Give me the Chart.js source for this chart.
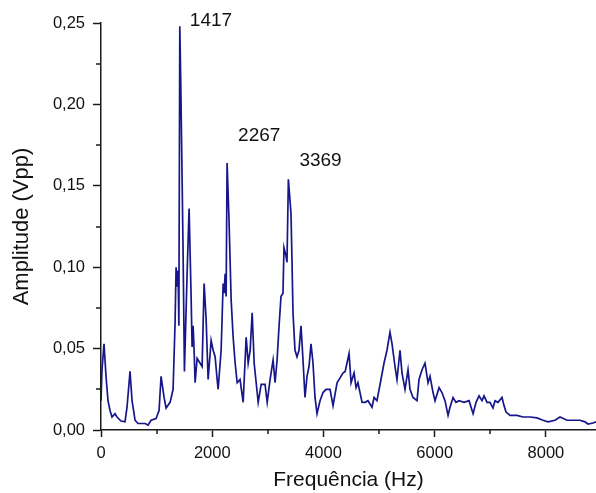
<!DOCTYPE html>
<html>
<head>
<meta charset="utf-8">
<script src="https://cdn.jsdelivr.net/npm/chart.js@4/dist/chart.umd.min.js"></script>
<style>
html,body{margin:0;padding:0;background:#fff;}
#wrap{width:596px;height:493px;position:relative;}
</style>
</head>
<body>
<div id="wrap"><canvas id="c" width="596" height="493"></canvas></div>
<script>
// ---- data (Hz, Vpp) ----
const freq = [
  0,18,54,90,126,162,198,252,288,360,
  432,468,522,558,612,666,792,846,900,990,
  1044,1080,1134,1170,1242,1296,1332,1350,1368,1386,
  1400,1417,1435,1455,1475,1500,1548,1584,1620,1638,
  1656,1674,1692,1728,1782,1818,1854,1890,1926,1980,
  2016,2052,2088,2106,2160,2196,2214,2232,2250,2267,
  2300,2340,2376,2412,2448,2500,2556,2610,2646,2682,
  2718,2754,2790,2826,2880,2916,2950,2988,3040,3094,
  3130,3166,3200,3236,3272,3290,3326,3344,3369,3416,
  3434,3452,3488,3524,3560,3596,3632,3668,3704,3740,
  3776,3812,3848,3884,3938,3992,4046,4118,4172,4244,
  4298,4350,4390,4460,4496,4550,4586,4620,4694,4748,
  4800,4873,4910,4962,5034,5088,5142,5196,5232,5286,
  5322,5376,5412,5466,5520,5556,5610,5682,5718,5772,
  5826,5880,5916,5970,6006,6078,6130,6185,6240,6275,
  6330,6383,6437,6527,6617,6690,6743,6797,6850,6887,
  6940,6994,7048,7084,7138,7210,7246,7282,7354,7480,
  7588,7714,7840,7947,8037,8163,8253,8379,8487,8612,
  8702,8756,8846,8900
];
const amp = [
  0.018,0.037,0.053,0.033,0.018,0.012,0.008,0.010,0.008,0.0055,
  0.005,0.014,0.036,0.018,0.006,0.004,0.004,0.003,0.006,0.007,
  0.012,0.033,0.020,0.0135,0.017,0.025,0.066,0.100,0.088,0.098,
  0.064,0.248,0.211,0.162,0.112,0.036,0.096,0.136,0.082,0.051,
  0.064,0.049,0.029,0.044,0.041,0.039,0.090,0.068,0.031,0.055,
  0.049,0.045,0.031,0.025,0.049,0.090,0.084,0.096,0.082,0.164,
  0.131,0.080,0.057,0.041,0.029,0.031,0.017,0.057,0.041,0.049,
  0.072,0.041,0.029,0.017,0.028,0.028,0.028,0.017,0.031,0.043,
  0.029,0.043,0.063,0.082,0.084,0.112,0.107,0.103,0.154,0.133,
  0.104,0.072,0.049,0.045,0.049,0.064,0.043,0.020,0.033,0.039,
  0.053,0.041,0.020,0.010,0.018,0.023,0.025,0.025,0.015,0.029,
  0.032,0.035,0.036,0.047,0.029,0.035,0.026,0.029,0.017,0.017,
  0.018,0.014,0.020,0.018,0.031,0.041,0.049,0.060,0.053,0.039,
  0.031,0.049,0.035,0.025,0.037,0.025,0.020,0.018,0.031,0.037,
  0.041,0.029,0.033,0.023,0.018,0.026,0.023,0.018,0.009,0.014,
  0.020,0.017,0.018,0.017,0.018,0.010,0.017,0.021,0.018,0.021,
  0.017,0.017,0.0135,0.018,0.017,0.020,0.015,0.011,0.009,0.009,
  0.008,0.008,0.0074,0.006,0.005,0.006,0.008,0.006,0.006,0.006,
  0.005,0.0037,0.0043,0.005
];
const peakLabels = ['1417','2267','3369'];
const peakFreq = [1417, 2267, 3369];
const peakAmp = [0.248, 0.164, 0.154];
const xTicks = [0, 2000, 4000, 6000, 8000];
const xMinorTicks = [1000, 3000, 5000, 7000];
const yTicks = [0, 0.05, 0.10, 0.15, 0.20, 0.25];
const yMinorTicks = [0.025, 0.075, 0.125, 0.175, 0.225];
const xTitle = 'Frequência (Hz)';
const yTitle = 'Amplitude (Vpp)';

// ---- styling ----
const FONT = "'Liberation Sans', Arial, sans-serif";
const AXIS = '#1a1a1a';
const LINE = '#16168a';
const labelOffsets = [[10, -5], [11, -27], [11, -19]]; // px offsets from the peak

const minorTicksPlugin = {
  id: 'minorTicks',
  afterDraw(chart) {
    const ctx = chart.ctx, xs = chart.scales.x, ys = chart.scales.y, a = chart.chartArea;
    ctx.save();
    ctx.strokeStyle = AXIS; ctx.lineWidth = 1.5;
    ctx.beginPath();
    yMinorTicks.forEach(v => { const p = Math.round(ys.getPixelForValue(v)); ctx.moveTo(a.left - 5, p); ctx.lineTo(a.left, p); });
    xMinorTicks.forEach(v => { const p = Math.round(xs.getPixelForValue(v)); ctx.moveTo(p, a.bottom); ctx.lineTo(p, a.bottom + 4); });
    ctx.stroke();
    // peak annotations
    ctx.fillStyle = '#111';
    ctx.font = "19px " + FONT;
    ctx.textAlign = 'left'; ctx.textBaseline = 'middle';
    peakLabels.forEach((t, i) => {
      const px = xs.getPixelForValue(peakFreq[i]) + labelOffsets[i][0];
      const py = ys.getPixelForValue(peakAmp[i]) + labelOffsets[i][1];
      ctx.fillText(t, px, py);
    });
    ctx.restore();
  }
};

new Chart(document.getElementById('c'), {
  type: 'line',
  data: {
    datasets: [{
      data: freq.map((f, i) => ({x: f, y: amp[i]})),
      borderColor: LINE,
      borderWidth: 1.7,
      pointRadius: 0,
      tension: 0,
      fill: false
    }]
  },
  options: {
    responsive: false,
    animation: false,
    devicePixelRatio: 1,
    layout: {padding: {top: 23, right: 0, left: 0, bottom: 0}},
    plugins: {legend: {display: false}, tooltip: {enabled: false}},
    scales: {
      x: {
        type: 'linear', min: 0, max: 8900,
        afterBuildTicks: s => { s.ticks = xTicks.map(v => ({value: v})); },
        afterFit: s => { s.height = 63; },
        ticks: {font: {family: FONT, size: 16.5}, color: '#111', padding: 7, maxRotation: 0,
                callback: v => String(v)},
        grid: {display: true, drawOnChartArea: false, tickLength: 7, color: AXIS, tickWidth: 1.5},
        border: {display: true, color: AXIS, width: 1.5},
        title: {display: true, text: xTitle, font: {family: FONT, size: 21}, color: '#111', padding: {top: 0, bottom: 0}}
      },
      y: {
        type: 'linear', min: 0, max: 0.25,
        afterBuildTicks: s => { s.ticks = yTicks.map(v => ({value: v})); },
        afterFit: s => { s.width = 101; },
        ticks: {font: {family: FONT, size: 16.5}, color: '#111', padding: 8,
                callback: v => v.toFixed(2).replace('.', ',')},
        grid: {display: true, drawOnChartArea: false, tickLength: 8, color: AXIS, tickWidth: 1.5},
        border: {display: true, color: AXIS, width: 1.5},
        title: {display: true, text: yTitle, font: {family: FONT, size: 22}, color: '#111', padding: {top: 9, bottom: 0}}
      }
    }
  },
  plugins: [minorTicksPlugin]
});
</script>
</body>
</html>
